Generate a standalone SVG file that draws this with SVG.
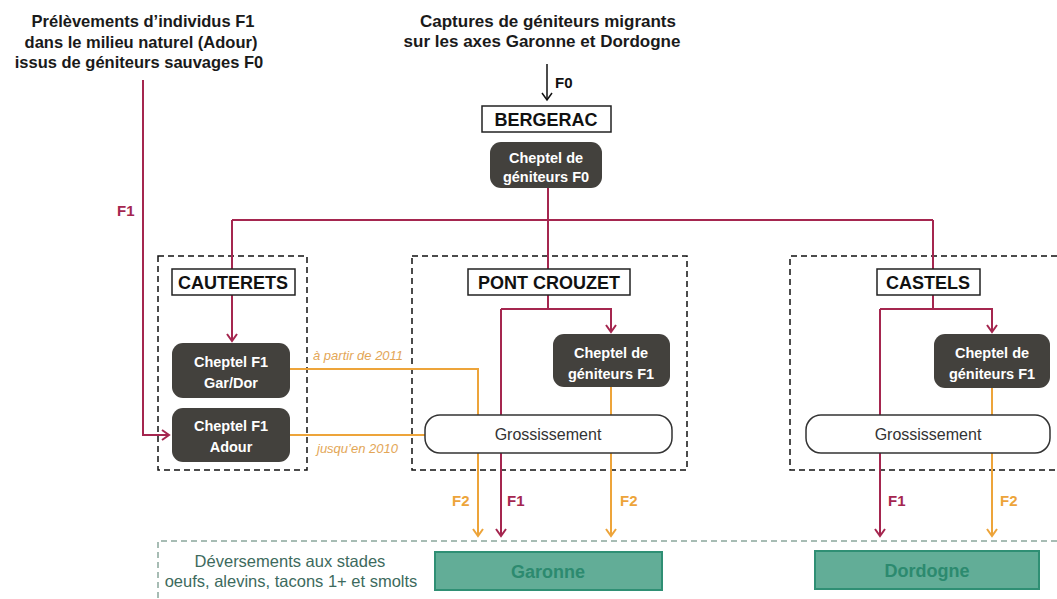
<svg xmlns="http://www.w3.org/2000/svg" width="1057" height="599" viewBox="0 0 1057 599">
<style>
  .hdr{font-family:"Liberation Sans",Arial,sans-serif;font-weight:bold;font-size:16.5px;fill:#1a1a1a;text-anchor:middle}
  .lbl{font-family:"Liberation Sans",Arial,sans-serif;font-weight:bold;font-size:18px;fill:#111;text-anchor:middle}
  .lblbox{fill:#fff;stroke:#222;stroke-width:1.5}
  .dark{fill:#43413d}
  .dtxt{font-family:"Liberation Sans",Arial,sans-serif;font-weight:bold;font-size:14.5px;fill:#fff;text-anchor:middle}
  .gros{fill:#fff;stroke:#333;stroke-width:1.5}
  .gtxt{font-family:"Liberation Sans",Arial,sans-serif;font-size:16px;fill:#333;text-anchor:middle}
  .zone{fill:none;stroke:#111;stroke-width:1.5;stroke-dasharray:6 4}
  .red{fill:none;stroke:#a5264f;stroke-width:2}
  .org{fill:none;stroke:#eda43a;stroke-width:2}
  .blk{fill:none;stroke:#111;stroke-width:1.5}
  .fr{font-family:"Liberation Sans",Arial,sans-serif;font-weight:bold;font-size:15px;fill:#a5264f}
  .fo{font-family:"Liberation Sans",Arial,sans-serif;font-weight:bold;font-size:15px;fill:#eda43a}
  .fb{font-family:"Liberation Sans",Arial,sans-serif;font-weight:bold;font-size:15px;fill:#111}
  .itl{font-family:"Liberation Sans",Arial,sans-serif;font-style:italic;font-size:13px;fill:#e3a656}
  .river{fill:#62ad97;stroke:#2f8f74;stroke-width:2}
  .rtxt{font-family:"Liberation Sans",Arial,sans-serif;font-weight:bold;font-size:18px;fill:#2c8a6f;text-anchor:middle}
  .dev{font-family:"Liberation Sans",Arial,sans-serif;font-size:16.5px;fill:#3d6a5d;text-anchor:middle}
</style>
<defs>
  <marker id="aR" viewBox="-9 -6 11 12" refX="0" refY="0" markerWidth="11" markerHeight="12" markerUnits="userSpaceOnUse" orient="auto">
    <path d="M-7,-5 L0,0 L-7,5" fill="none" stroke="#a5264f" stroke-width="2"/>
  </marker>
  <marker id="aO" viewBox="-9 -6 11 12" refX="0" refY="0" markerWidth="11" markerHeight="12" markerUnits="userSpaceOnUse" orient="auto">
    <path d="M-7,-5 L0,0 L-7,5" fill="none" stroke="#eda43a" stroke-width="2"/>
  </marker>
  <marker id="aB" viewBox="-9 -6 11 12" refX="0" refY="0" markerWidth="11" markerHeight="12" markerUnits="userSpaceOnUse" orient="auto">
    <path d="M-7,-5 L0,0 L-7,5" fill="none" stroke="#111" stroke-width="1.5"/>
  </marker>
</defs>
<rect width="1057" height="599" fill="#fff"/>

<g id="source-adour">
  <text class="hdr" x="143" y="27">Prélèvements d’individus F1</text>
  <text class="hdr" x="141" y="48">dans le milieu naturel (Adour)</text>
  <text class="hdr" x="139" y="68">issus de géniteurs sauvages F0</text>
</g>
<g id="source-captures">
  <text class="hdr" x="548" y="27" style="font-size:17px">Captures de géniteurs migrants</text>
  <text class="hdr" x="542" y="47" style="font-size:17px">sur les axes Garonne et Dordogne</text>
</g>

<g id="zones">
  <rect id="zone-cauterets" class="zone" x="158" y="256" width="149" height="214"/>
  <rect id="zone-pont-crouzet" class="zone" x="412" y="256" width="275" height="214"/>
  <path id="zone-castels" class="zone" d="M1057,256 H790 V470 H1057"/>
  <path id="zone-deversements" d="M1057,541 H158 V599" fill="none" stroke="#8aa69c" stroke-width="1.5" stroke-dasharray="6 4"/>
</g>

<g id="connectors">
  <path class="blk" d="M547,64 V100" marker-end="url(#aB)"/>
  <path class="red" d="M143,80 V435 H169" marker-end="url(#aR)"/>
  <path class="red" d="M548,188 V220"/>
  <path class="red" d="M232,220 H933"/>
  <path class="red" d="M232,220 V341" marker-end="url(#aR)"/>
  <path class="red" d="M548,220 V309"/>
  <path class="red" d="M501,309 H611 V332" marker-end="url(#aR)"/>
  <path class="red" d="M501,309 V536" marker-end="url(#aR)"/>
  <path class="red" d="M933,220 V309"/>
  <path class="red" d="M880,309 H992 V332" marker-end="url(#aR)"/>
  <path class="red" d="M880,309 V536" marker-end="url(#aR)"/>
  <path class="org" d="M290,369 H478 V536" marker-end="url(#aO)"/>
  <path class="org" d="M290,435 H425"/>
  <path class="org" d="M611,387 V536" marker-end="url(#aO)"/>
  <path class="org" d="M992,388 V536" marker-end="url(#aO)"/>
  <text class="fb" x="555" y="88">F0</text>
  <text class="fr" x="117" y="216">F1</text>
  <text class="itl" x="313" y="360">à partir de 2011</text>
  <text class="itl" x="317" y="453">jusqu’en 2010</text>
  <text class="fo" x="452" y="506">F2</text>
  <text class="fr" x="507" y="506">F1</text>
  <text class="fo" x="620" y="506">F2</text>
  <text class="fr" x="888" y="506">F1</text>
  <text class="fo" x="1000" y="506">F2</text>
</g>

<g id="bergerac">
  <rect class="lblbox" x="482" y="106" width="129" height="26"/>
  <text class="lbl" x="546" y="126">BERGERAC</text>
</g>
<g id="cheptel-f0">
  <rect class="dark" x="490" y="142" width="112" height="46" rx="11"/>
  <text class="dtxt" x="546" y="163">Cheptel de</text>
  <text class="dtxt" x="546" y="182">géniteurs F0</text>
</g>

<g id="cauterets">
  <rect class="lblbox" x="172" y="269" width="123" height="26"/>
  <text class="lbl" x="233" y="289">CAUTERETS</text>
</g>
<g id="cheptel-f1-gardor">
  <rect class="dark" x="172" y="343" width="118" height="55" rx="11"/>
  <text class="dtxt" x="231" y="367">Cheptel F1</text>
  <text class="dtxt" x="231" y="388">Gar/Dor</text>
</g>
<g id="cheptel-f1-adour">
  <rect class="dark" x="172" y="408" width="118" height="54" rx="11"/>
  <text class="dtxt" x="231" y="431">Cheptel F1</text>
  <text class="dtxt" x="231" y="452">Adour</text>
</g>

<g id="pont-crouzet">
  <rect class="lblbox" x="468" y="269" width="162" height="26"/>
  <text class="lbl" x="549" y="289">PONT CROUZET</text>
</g>
<g id="cheptel-f1-pc">
  <rect class="dark" x="553" y="334" width="117" height="53" rx="11"/>
  <text class="dtxt" x="611" y="358">Cheptel de</text>
  <text class="dtxt" x="611" y="379">géniteurs F1</text>
</g>
<g id="grossissement-pc">
  <rect class="gros" x="425" y="415" width="247" height="38" rx="15"/>
  <text class="gtxt" x="548" y="440">Grossissement</text>
</g>

<g id="castels">
  <rect class="lblbox" x="877" y="269" width="103" height="26"/>
  <text class="lbl" x="928" y="289">CASTELS</text>
</g>
<g id="cheptel-f1-castels">
  <rect class="dark" x="934" y="334" width="116" height="54" rx="11"/>
  <text class="dtxt" x="992" y="358">Cheptel de</text>
  <text class="dtxt" x="992" y="379">géniteurs F1</text>
</g>
<g id="grossissement-castels">
  <rect class="gros" x="806" y="415" width="244" height="38" rx="15"/>
  <text class="gtxt" x="928" y="440">Grossissement</text>
</g>

<g id="deversements">
  <text class="dev" x="290" y="567">Déversements aux stades</text>
  <text class="dev" x="291" y="587">oeufs, alevins, tacons 1+ et smolts</text>
</g>
<g id="garonne">
  <rect class="river" x="435" y="552" width="227" height="38"/>
  <text class="rtxt" x="548" y="578">Garonne</text>
</g>
<g id="dordogne">
  <rect class="river" x="815" y="551" width="224" height="38"/>
  <text class="rtxt" x="927" y="577">Dordogne</text>
</g>
</svg>
